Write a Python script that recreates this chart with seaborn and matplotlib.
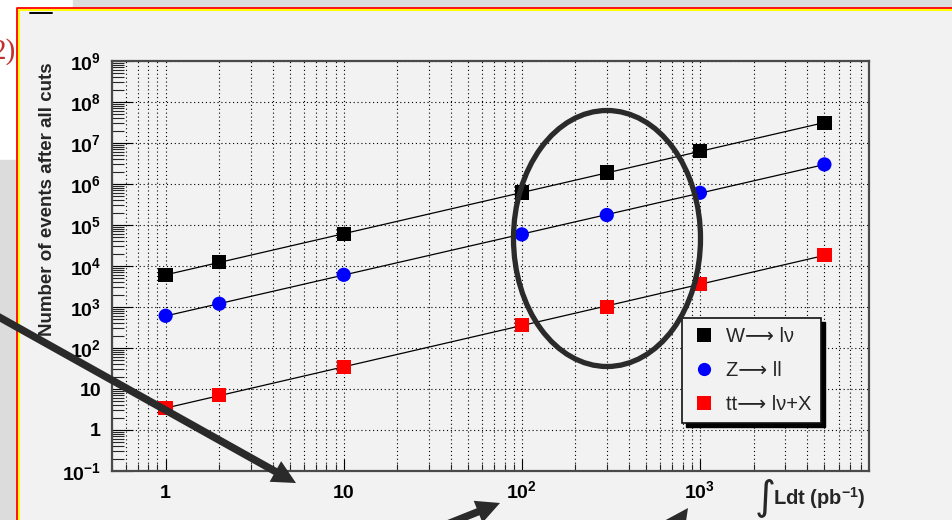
import numpy as np
import pandas as pd
import seaborn as sns
import matplotlib.pyplot as plt
from matplotlib.patches import Rectangle, Ellipse, FancyArrowPatch
from matplotlib.lines import Line2D
from matplotlib.transforms import IdentityTransform
from matplotlib.ticker import FixedLocator, FixedFormatter, LogLocator, NullFormatter

# integrated luminosity (pb^-1) and expected events after all cuts
lumi = [1, 2, 10, 100, 300, 1000, 5000]
n_w = [6.0e3, 1.25e4, 6.0e4, 6.2e5, 1.9e6, 6.3e6, 3.1e7]
n_z = [6.1e2, 1.2e3, 6.1e3, 5.9e4, 1.75e5, 6.1e5, 3.0e6]
n_tt = [3.4, 7.1, 34, 365, 1000, 3600, 18500]

labels = ["W\u27f6 l\u03bd", "Z\u27f6 ll", "tt\u27f6 l\u03bd+X"]
colors = ["#000000", "#0000ff", "#ff0000"]
markers = ["s", "o", "s"]

x_ticks = [1, 10, 100, 1000]
x_ticklabels = ["1", "10", r"$10^{2}$", r"$10^{3}$"]
y_ticks = [1e-1, 1, 10, 1e2, 1e3, 1e4, 1e5, 1e6, 1e7, 1e8, 1e9]
y_ticklabels = [r"$10^{-1}$", "1", "10", r"$10^{2}$", r"$10^{3}$", r"$10^{4}$",
                r"$10^{5}$", r"$10^{6}$", r"$10^{7}$", r"$10^{8}$", r"$10^{9}$"]

df = pd.DataFrame({
    "lumi": lumi * 3,
    "events": n_w + n_z + n_tt,
    "process": [labels[0]] * len(lumi) + [labels[1]] * len(lumi) + [labels[2]] * len(lumi),
})

sns.set_style("white")
plt.rcParams["font.family"] = ["Liberation Sans", "DejaVu Sans"]
plt.rcParams["mathtext.fontset"] = "custom"
plt.rcParams["mathtext.bf"] = "Liberation Sans:bold"
plt.rcParams["mathtext.rm"] = "Liberation Sans"
plt.rcParams["mathtext.default"] = "bf"

W, H = 953, 520
BG = "#f2f2f2"


def fx(x):
    return x / W


def fy(y):
    return 1 - y / H


fig = plt.figure(figsize=(9.53, 5.2), dpi=100, facecolor=BG)
ax = fig.add_axes([fx(112), fy(471), (869 - 112) / W, (471 - 61) / H])
ax.set_facecolor(BG)

sns.scatterplot(data=df, x="lumi", y="events", hue="process", style="process",
                palette=dict(zip(labels, colors)), markers=dict(zip(labels, markers)),
                s=105, linewidth=0, legend=False, ax=ax, zorder=3)

# straight-line fits in log-log space
for vals in [n_w, n_z, n_tt]:
    coef = np.polyfit(np.log10(lumi), np.log10(vals), 1)
    xs = np.array([min(lumi), max(lumi)])
    ax.plot(xs, 10 ** np.polyval(coef, np.log10(xs)), color="k", lw=0.9, zorder=2)

ax.set_xscale("log")
ax.set_yscale("log")
ax.set_xlim(0.5, 8900)
ax.set_ylim(0.1, 1e9)
ax.set_xlabel("")
ax.set_ylabel("")

ax.xaxis.set_major_locator(FixedLocator(x_ticks))
ax.xaxis.set_major_formatter(FixedFormatter(x_ticklabels))
ax.xaxis.set_minor_locator(LogLocator(base=10, subs=np.arange(2, 10), numticks=30))
ax.xaxis.set_minor_formatter(NullFormatter())
ax.yaxis.set_major_locator(FixedLocator(y_ticks))
ax.yaxis.set_major_formatter(FixedFormatter(y_ticklabels))
ax.yaxis.set_minor_locator(LogLocator(base=10, subs=np.arange(2, 10), numticks=30))
ax.yaxis.set_minor_formatter(NullFormatter())

ax.tick_params(axis="x", which="major", direction="in", length=8.6, width=0.8,
               pad=19.5, labelsize=14, colors="k", top=False, bottom=True)
ax.tick_params(axis="x", which="minor", direction="in", length=5, width=0.8,
               top=False, bottom=True)
ax.tick_params(axis="y", which="major", direction="in", length=15, width=0.8,
               pad=8, labelsize=14, colors="k", right=False, left=True)
ax.tick_params(axis="y", which="minor", direction="in", length=8.6, width=0.8,
               right=False, left=True)
for lab in ax.get_xticklabels():
    lab.set_fontweight("bold")
    lab.set_va("baseline")
for lab in ax.get_yticklabels():
    lab.set_fontweight("bold")

grid_style = dict(color="k", linestyle=(0, (1, 2.5)), linewidth=0.8)
ax.grid(True, which="both", axis="x", **grid_style)
ax.grid(True, which="major", axis="y", **grid_style)
ax.set_axisbelow(True)

for s in ax.spines.values():
    s.set_visible(True)
    s.set_color("#4a4a4a")
    s.set_linewidth(1.6)

handles = [Line2D([], [], ls="none", marker=m, color=c, markersize=9.5, markeredgewidth=0)
           for m, c in zip(markers, colors)]
leg = ax.legend(handles, labels, loc="upper left", bbox_to_anchor=(fx(682), fy(318)),
                bbox_transform=fig.transFigure, borderaxespad=0, fontsize=14.5,
                frameon=True, fancybox=False, shadow=False,
                facecolor=BG, edgecolor="#111111", framealpha=1, handlelength=1.3,
                handletextpad=0.45, labelspacing=0.75, borderpad=0.45)
leg.get_frame().set_linewidth(1.2)
leg.set_zorder(6)

# axis titles
fig.text(fx(48), fy(199.5), "Number of events after all cuts", rotation=90,
         ha="center", va="center", fontsize=13.5, fontweight="bold")
fig.text(fx(765), fy(497), "\u222b", fontsize=29, family="DejaVu Sans",
         ha="center", va="center")
fig.text(fx(773), fy(505), r"Ldt (pb$^{-1}$)", fontsize=14.5, fontweight="bold",
         ha="left", va="baseline")

# slide surroundings
tf = fig.transFigure
fig.add_artist(Rectangle((0, fy(160)), fx(16), 160 / H, transform=tf, color="white", zorder=-2))
fig.add_artist(Rectangle((0, 0), fx(16), fy(160), transform=tf, color="#dcdcdc", zorder=-2))
fig.add_artist(Rectangle((0, fy(7)), fx(73), 7 / H, transform=tf, color="white", zorder=-2))
fig.add_artist(Rectangle((fx(73), fy(7)), 1 - fx(73), 7 / H, transform=tf, color="#dcdcdc", zorder=-2))
fig.add_artist(Line2D([fx(18.6), fx(18.6), 1], [0, fy(9.6), fy(9.6)], transform=tf,
                      color="#ffff00", lw=1.4, zorder=-1))
fig.add_artist(Line2D([fx(16.6), fx(16.6), 1], [0, fy(7.6), fy(7.6)], transform=tf,
                      color="#ff0000", lw=1.3, zorder=-1))
fig.add_artist(Line2D([fx(30), fx(52)], [fy(12.5), fy(12.5)], transform=tf,
                      color="k", lw=1.4, zorder=-1))
fig.text(fx(16), fy(52), "2)", ha="right", va="center", fontsize=21,
         color="#c0302e", family="Liberation Serif")

# annotations drawn on the slide
fig.add_artist(Ellipse((fx(607), fy(238.5)), 187 / W, 256 / H, transform=tf, fill=False,
                       ec="#2a2a2a", lw=3.8, zorder=10))
arrow_style = "simple,head_length=0.85,head_width=0.85,tail_width=0.27"
for tail, tip in [((-10, 312), (296, 483)), ((440, 527), (500, 503)), ((662, 545), (688, 508))]:
    fig.add_artist(FancyArrowPatch((fx(tail[0]), fy(tail[1])), (fx(tip[0]), fy(tip[1])),
                                   arrowstyle=arrow_style, mutation_scale=20, color="#2a2a2a",
                                   lw=0, shrinkA=0, shrinkB=0, transform=tf, zorder=10))

# solid black legend shadow, offset a few pixels down and right
fig.canvas.draw()
bb = leg.get_window_extent()
ax.add_artist(Rectangle((bb.x0 + 4, bb.y0 - 4), bb.width, bb.height, transform=IdentityTransform(),
                        color="k", zorder=5.5, clip_on=False))

plt.savefig("out.png", dpi=100, facecolor=BG)
